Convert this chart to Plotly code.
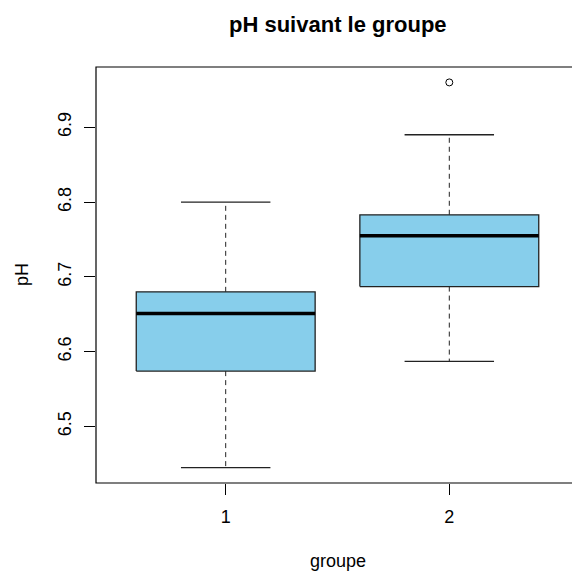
import plotly.graph_objects as go

# ---- data ----
groups = ["1", "2"]
positions = [1, 2]
lower_whisker = [6.445, 6.587]
q1 = [6.574, 6.687]
median = [6.651, 6.755]
q3 = [6.680, 6.783]
upper_whisker = [6.800, 6.890]
outlier_group = [2]
outlier_values = [6.96]

title = "pH suivant le groupe"
xlabel = "groupe"
ylabel = "pH"
yticks = [6.5, 6.6, 6.7, 6.8, 6.9]

FONT = "Liberation Sans, Arial, sans-serif"
FILL = "#87CEEB"
LINE = "#222222"

box_half = 0.4
cap_half = 0.2

fig = go.Figure()

for i, x in enumerate(positions):
    # box
    fig.add_trace(go.Scatter(
        x=[x - box_half, x + box_half, x + box_half, x - box_half, x - box_half],
        y=[q1[i], q1[i], q3[i], q3[i], q1[i]],
        mode="lines", fill="toself", fillcolor=FILL,
        line=dict(color=LINE, width=1.3), hoverinfo="skip", showlegend=False))
    # median
    fig.add_trace(go.Scatter(
        x=[x - box_half, x + box_half], y=[median[i], median[i]],
        mode="lines", line=dict(color="black", width=3.5),
        hoverinfo="skip", showlegend=False))
    # whiskers (dashed)
    for a, b in [(q3[i], upper_whisker[i]), (q1[i], lower_whisker[i])]:
        fig.add_trace(go.Scatter(
            x=[x, x], y=[a, b], mode="lines",
            line=dict(color=LINE, width=1, dash="5px,4px"),
            hoverinfo="skip", showlegend=False))
    # caps
    for v in [upper_whisker[i], lower_whisker[i]]:
        fig.add_trace(go.Scatter(
            x=[x - cap_half, x + cap_half], y=[v, v], mode="lines",
            line=dict(color=LINE, width=1.3),
            hoverinfo="skip", showlegend=False))

fig.add_trace(go.Scatter(
    x=outlier_group, y=outlier_values, mode="markers",
    marker=dict(symbol="circle-open", size=7, color="black", line=dict(width=1)),
    hoverinfo="skip", showlegend=False))

# ranges like R (4% extension)
all_vals = lower_whisker + upper_whisker + outlier_values
ymin, ymax = min(all_vals), max(all_vals)
ext = 0.04 * (ymax - ymin)
y_range = [ymin - ext, ymax + ext]

x_full = [0.5 - 0.04 * 2, 2.5 + 0.04 * 2]
W, L, R_full = 572, 96, 579
x_range = [x_full[0], x_full[0] + (x_full[1] - x_full[0]) * (W - L) / (R_full - L)]

fig.update_layout(
    width=572, height=572,
    margin=dict(l=96, r=0, t=67, b=89),
    paper_bgcolor="white", plot_bgcolor="white",
    font=dict(family=FONT, size=18, color="black"),
    xaxis=dict(range=x_range, tickmode="array", tickvals=positions, ticktext=groups,
               ticks="outside", ticklen=11, tickwidth=1, tickcolor="black",
               showgrid=False, zeroline=False, showline=False,
               ticklabelstandoff=6),
    yaxis=dict(range=y_range, tickmode="array", tickvals=yticks,
               ticktext=[f"{v:.1f}" for v in yticks],
               ticks="outside", ticklen=11, tickwidth=1, tickcolor="black",
               tickangle=-90, showgrid=False, zeroline=False, showline=False,
               ticklabelstandoff=6),
    shapes=[dict(type="rect", xref="paper", yref="paper", x0=0, x1=(R_full - L) / (W - L),
                 y0=0, y1=1, line=dict(color="black", width=1.2), fillcolor="rgba(0,0,0,0)",
                 layer="above")],
    annotations=[
        dict(text=f"<b>{title}</b>", xref="x", yref="paper", x=sum(x_full) / 2,
             y=1 + (67 - 24) / 416, xanchor="center", yanchor="middle",
             showarrow=False, font=dict(size=22, family=FONT)),
        dict(text=xlabel, xref="x", yref="paper", x=sum(x_full) / 2,
             y=-(561 - 483) / 416, xanchor="center", yanchor="middle",
             showarrow=False, font=dict(size=18, family=FONT)),
        dict(text=ylabel, xref="paper", yref="paper", x=-(96 - 22) / 476,
             y=0.5, xanchor="center", yanchor="middle", textangle=-90,
             showarrow=False, font=dict(size=18, family=FONT)),
    ],
)

fig.write_html("out.html")
